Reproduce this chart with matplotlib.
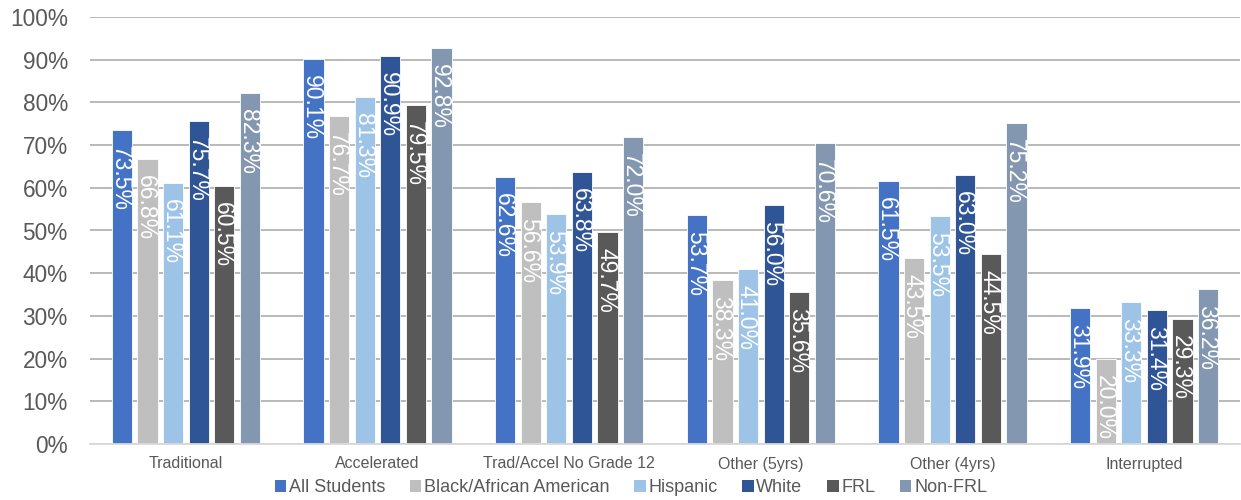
import matplotlib
matplotlib.use("Agg")
import matplotlib.pyplot as plt
from matplotlib.patches import Patch
import numpy as np

plt.rcParams['font.family'] = ['Liberation Sans', 'DejaVu Sans']

categories = ["Traditional", "Accelerated", "Trad/Accel No Grade 12",
              "Other (5yrs)", "Other (4yrs)", "Interrupted"]
series_names = ["All Students", "Black/African American", "Hispanic",
                "White", "FRL", "Non-FRL"]
all_students = [73.5, 90.1, 62.6, 53.7, 61.5, 31.9]
black_african_american = [66.8, 76.7, 56.6, 38.3, 43.5, 20.0]
hispanic = [61.1, 81.3, 53.9, 41.0, 53.5, 33.3]
white = [75.7, 90.9, 63.8, 56.0, 63.0, 31.4]
frl = [60.5, 79.5, 49.7, 35.6, 44.5, 29.3]
non_frl = [82.3, 92.8, 72.0, 70.6, 75.2, 36.2]
y_ticks = [0, 10, 20, 30, 40, 50, 60, 70, 80, 90, 100]

series = [all_students, black_african_american, hispanic, white, frl, non_frl]
colors = ["#4472C4", "#BFBFBF", "#9DC3E6", "#2F5597", "#595959", "#8497B0"]

fig = plt.figure(figsize=(12.41, 5.0), dpi=100)
ax = fig.add_axes([90 / 1241, 56 / 500, 1150 / 1241, 427 / 500])

label_size = 16.5
x = np.arange(len(categories))
pitch = 0.1335
width = 0.105
for i, (vals, col) in enumerate(zip(series, colors)):
    xs = x + (i - 2.5) * pitch
    ax.bar(xs, vals, width=width, color=col, edgecolor="white",
           linewidth=0.6, zorder=3)
    for xi, v in zip(xs, vals):
        # rotated value label, glyphs centred across the bar
        ax.annotate(f"{v:.1f}%", xy=(xi, v),
                    xytext=(-0.358 * label_size, -11.5),
                    textcoords="offset points", rotation=-90,
                    rotation_mode="anchor", ha="left", va="baseline",
                    color="white", fontsize=label_size, zorder=4)

ax.set_xlim(-0.5, len(categories) - 0.5)
ax.set_ylim(0, 100)
ax.set_yticks(y_ticks)
ax.set_yticklabels([f"{t}%" for t in y_ticks])
ax.set_xticks(x)
ax.set_xticklabels(categories)
ax.tick_params(axis="y", length=0, labelsize=16.3, labelcolor="#595959", pad=16)
ax.tick_params(axis="x", length=0, labelsize=11.5, labelcolor="#595959", pad=9)

ax.yaxis.grid(True, color="#A6A6A6", linewidth=1.1, zorder=0)
ax.set_axisbelow(True)
for s in ["top", "right", "left"]:
    ax.spines[s].set_visible(False)
ax.spines["bottom"].set_color("#D9D9D9")
ax.spines["bottom"].set_linewidth(1.3)
ax.spines["bottom"].set_zorder(5)

handles = [Patch(facecolor=c, edgecolor="none") for c in colors]
fig.legend(handles, series_names, loc="center",
           bbox_to_anchor=(631 / 1241, 12 / 500), ncol=6, frameon=False,
           fontsize=13, handlelength=0.62, handleheight=0.62,
           handletextpad=0.15, columnspacing=1.38, labelcolor="#595959",
           borderpad=0)

fig.savefig("out.png", dpi=100)
